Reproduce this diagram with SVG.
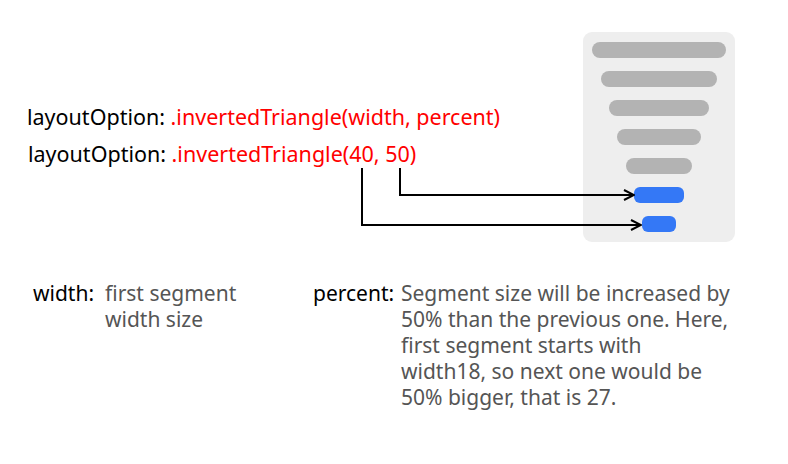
<svg xmlns="http://www.w3.org/2000/svg" width="788" height="464" viewBox="0 0 788 464">
<defs>
<style>
.t{font-family:"Noto Sans","Open Sans",sans-serif;}
.code{font-size:21.5px;}
.k{fill:#000000;}
.r{fill:#ff0000;}
.lbl{font-size:21px;fill:#000000;}
.desc{font-size:21px;fill:#555555;}
.bar{fill:#b3b3b3;}
.blue{fill:#3478f6;}
.conn{fill:none;stroke:#000000;stroke-width:2;}
</style>
<marker id="arr" viewBox="0 0 12 12" refX="11" refY="6" markerWidth="12" markerHeight="12" markerUnits="userSpaceOnUse" orient="auto">
<path d="M1,1 L11,6 L1,11" fill="none" stroke="#000000" stroke-width="2"/>
</marker>
</defs>
<rect width="788" height="464" fill="#ffffff"/>
<g id="code">
<text class="t code" x="27" y="125"><tspan class="k">layoutOption: </tspan><tspan class="r">.invertedTriangle(width, percent)</tspan></text>
<text class="t code" x="28" y="162"><tspan class="k">layoutOption: </tspan><tspan class="r">.invertedTriangle(40, 50)</tspan></text>
</g>
<g id="funnel">
<rect x="583" y="32" width="152" height="210" rx="9" fill="#eeeeee"/>
<rect class="bar" x="592" y="42" width="134" height="16" rx="8"/>
<rect class="bar" x="601" y="71" width="116" height="16" rx="8"/>
<rect class="bar" x="609" y="100" width="100" height="16" rx="8"/>
<rect class="bar" x="617" y="129" width="84" height="16" rx="8"/>
<rect class="bar" x="626" y="158" width="66" height="16" rx="8"/>
<rect class="blue" x="634" y="187" width="50" height="16" rx="6"/>
<rect class="blue" x="642" y="216" width="34" height="16" rx="6"/>
</g>
<g id="connectors">
<path class="conn" d="M400,168 V195 H634" marker-end="url(#arr)"/>
<path class="conn" d="M362,168 V225 H641" marker-end="url(#arr)"/>
</g>
<g id="width-desc">
<text class="t lbl" x="33" y="301">width:</text>
<text class="t desc" x="105" y="301">first segment</text>
<text class="t desc" x="105" y="327">width size</text>
</g>
<g id="percent-desc">
<text class="t lbl" x="313" y="301">percent:</text>
<text class="t desc" x="401" y="301">Segment size will be increased by</text>
<text class="t desc" x="401" y="327">50% than the previous one. Here,</text>
<text class="t desc" x="401" y="353">first segment starts with</text>
<text class="t desc" x="401" y="379">width18, so next one would be</text>
<text class="t desc" x="401" y="405">50% bigger, that is 27.</text>
</g>
</svg>
